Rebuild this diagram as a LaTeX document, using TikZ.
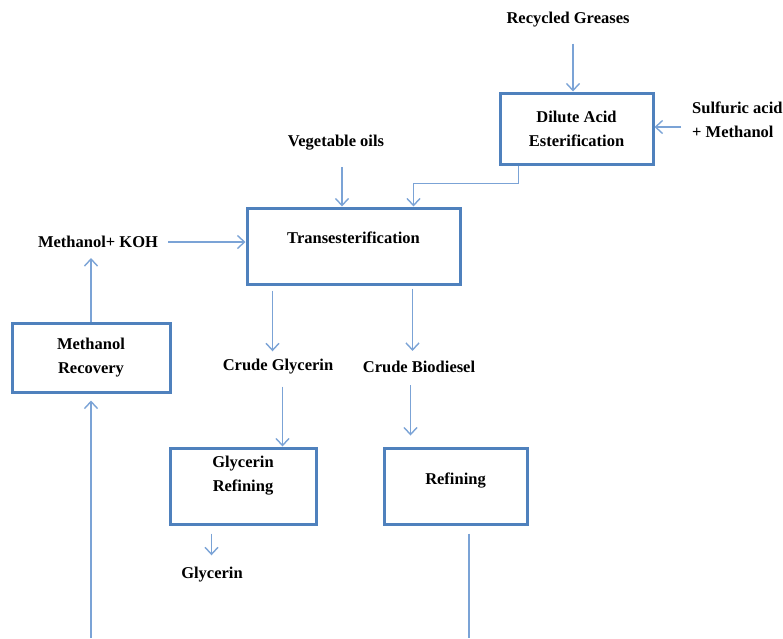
\documentclass[tikz,border=0pt]{standalone}
\usepackage{fontspec}
\setmainfont{Liberation Serif}
\usetikzlibrary{arrows.meta}
\definecolor{boxblue}{HTML}{4F81BD}
\definecolor{flowblue}{HTML}{7BA3D6}
\begin{document}
\begin{tikzpicture}[x=1pt,y=-1pt]
    \tikzstyle{every node}+=[inner sep=0pt, font=\fontsize{16.5}{24}\selectfont\bfseries, align=center]
    \tikzstyle{procbox}=[draw=boxblue, line width=3pt]
    \tikzstyle{flow}=[draw=flowblue, line width=1.4pt, -{Straight Barb[length=7pt,width=13pt]}]
    \useasboundingbox (0,0) rectangle (783,638);
    \node (grease) at (568,20) {Recycled Greases};
    \node [procbox, minimum width=153pt, minimum height=71pt] (dilute) at (576.5,128.5) {Dilute Acid\\Esterification};
    \node [anchor=west, align=left] (acid) at (692,120) {Sulfuric acid\\+ Methanol};
    \node (vegoils) at (336,143) {Vegetable oils};
    \node [procbox, minimum width=213pt, minimum height=76pt, label={[name=transtext, yshift=8pt]center:Transesterification}] (trans) at (353.5,246) {};
    \node (methkoh) at (98,242) {Methanol+ KOH};
    \node [procbox, minimum width=158pt, minimum height=69pt] (recovery) at (91,357.5) {Methanol\\Recovery};
    \node (cglyc) at (278,367) {Crude Glycerin};
    \node (cbio) at (419,367) {Crude Biodiesel};
    \node [procbox, minimum width=146pt, minimum height=76pt, label={[name=glyreftext, align=center, yshift=10pt]center:Glycerin\\Refining}] (glyref) at (243,486) {};
    \node [procbox, minimum width=143pt, minimum height=76pt, label={[name=reftext, yshift=6pt]center:Refining}] (refining) at (455.5,486) {};
    \node (glycerin) at (212,575) {Glycerin};
    \coordinate (recin) at (91,638);
    \coordinate (refout) at (469,638);
    \draw [flow, shorten <=16pt] ([xshift=5pt]grease.south) -- ([xshift=5pt]grease.south |- dilute.north);
    \draw [flow, shorten <=11pt] ([yshift=-7pt]acid.west) -- ([yshift=-7pt]acid.west -| dilute.east);
    \draw [flow, shorten <=16pt] ([xshift=6pt]vegoils.south) -- ([xshift=6pt]vegoils.south |- trans.north);
    \draw [flow] ([xshift=20pt]dilute.south west) -- ++(0,18) -| ([xshift=-48pt]trans.north east);
    \draw [flow, shorten <=10pt] (methkoh.east) -- (methkoh.east -| trans.west);
    \draw [flow, shorten >=10pt] (recovery.north) -- (recovery.north |- methkoh.south);
    \draw [flow, shorten >=7pt] (recin) -- (recovery.south);
    \draw [flow, shorten <=5pt, shorten >=8pt] ([xshift=27pt]trans.south west) -- ([xshift=27pt]trans.south west |- cglyc.north);
    \draw [flow, shorten <=3pt, shorten >=10pt] ([xshift=-49pt]trans.south east) -- ([xshift=-49pt]trans.south east |- cbio.north);
    \draw [flow, shorten <=12pt] ([xshift=114pt]glyref.north west |- cglyc.south) -- ([xshift=114pt]glyref.north west);
    \draw [flow, shorten <=12pt, shorten >=11pt] ([xshift=28pt]refining.north west |- cbio.south) -- ([xshift=28pt]refining.north west);
    \draw [flow, shorten <=8pt, shorten >=12pt] ([xshift=43pt]glyref.south west) -- ([xshift=43pt]glyref.south west |- glycerin.north);
    \draw [draw=flowblue, line width=1.4pt, shorten <=8pt] (refout |- refining.south) -- (refout);
\end{tikzpicture}
\end{document}
